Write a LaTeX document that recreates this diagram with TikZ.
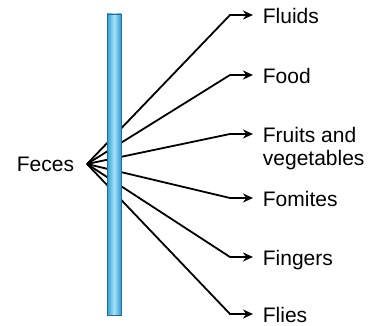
\documentclass[tikz,border=0pt]{standalone}
\usepackage{fontspec}
\setmainfont{Liberation Sans}
\usetikzlibrary{arrows.meta,calc}
\definecolor{barblue}{HTML}{2E9BD8}
\definecolor{barlight}{HTML}{A6E3F8}
\definecolor{baredge}{HTML}{2A6A90}

\begin{document}
\begin{tikzpicture}[x=1pt,y=-1pt,line width=1.8pt,>={Stealth[length=10pt,width=9pt]},
  lbl/.style={font=\fontsize{21}{23}\selectfont,inner sep=0pt,align=left}]
  \useasboundingbox (0,0) rectangle (369,326);
  % source of all routes
  \node[lbl,anchor=east,inner xsep=12pt] (feces) at (87,164) {Feces};
  % routes: arrow height / name / text
  \foreach \y/\n/\t in {15/fluids/Fluids,75/food/Food,
      134/fruits/{Fruits and\\vegetables},198/fomites/Fomites,
      257/fingers/Fingers,314/flies/Flies}{
    \node[lbl,anchor=north west] (\n) at (262,\y-7.3) {\t};
    \draw[->] (feces.east) -- (230,\y) -- ([shift={(-9,7.3)}]\n.north west);}
  % the barrier, on top of the lines
  \shade[left color=barblue,right color=barblue,middle color=barlight,
    draw=baredge,line width=0.6pt] (107,14) rectangle (121,315);
\end{tikzpicture}
\end{document}
